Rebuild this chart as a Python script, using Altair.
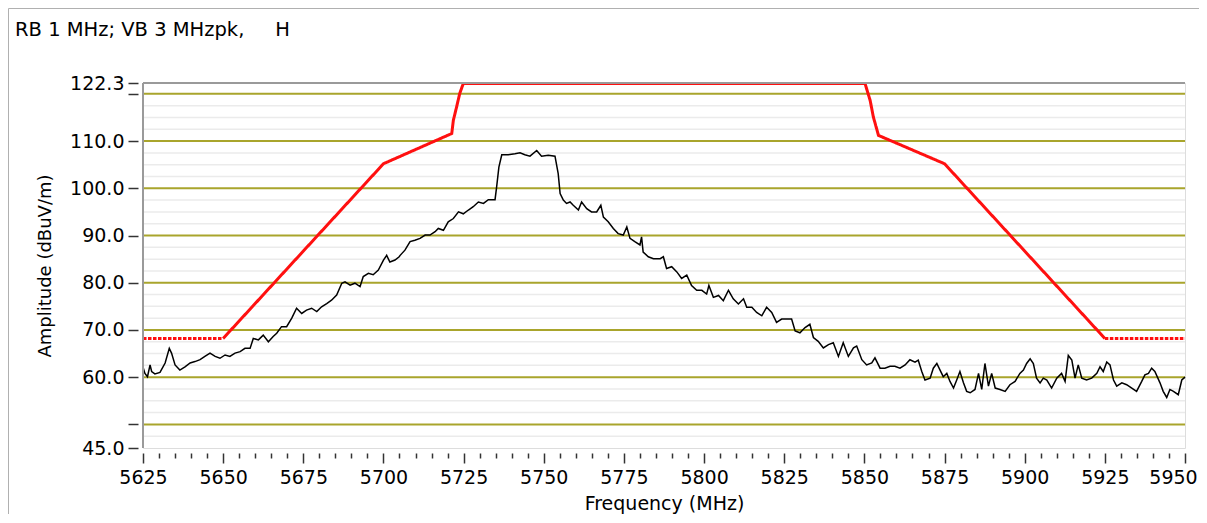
import altair as alt
import pandas as pd

# ---------------- data ----------------
x_tick_values = list(range(5625, 5951, 5))
y_tick_values = [45, 50, 60, 70, 80, 90, 100, 110, 120, 122.3]
major_grid = [50, 60, 70, 80, 90, 100, 110, 120]
minor_grid = [47.5, 52.5, 55, 57.5, 62.5, 65, 67.5, 72.5, 75, 77.5, 82.5, 85, 87.5,
              92.5, 95, 97.5, 102.5, 105, 107.5, 112.5, 115, 117.5]

# limit line, piece by piece (flat pieces drawn dotted, the rest solid)
limit_left_flat_freq = [5625, 5650]
limit_left_flat_amp = [68.2, 68.2]
limit_rise_freq = [5650, 5700, 5721.3, 5721.8, 5722.8, 5723.8, 5724.9]
limit_rise_amp = [68.2, 105.2, 111.6, 114.4, 117.2, 120.1, 122.2]
limit_top_freq = [5724.9, 5850.2]
limit_top_amp = [122.2, 122.2]
limit_fall_freq = [5850.2, 5851.8, 5852.8, 5854.4, 5875, 5925]
limit_fall_amp = [122.2, 118.6, 115.1, 111.2, 105.2, 68.2]
limit_right_flat_freq = [5925, 5950]
limit_right_flat_amp = [68.2, 68.2]

seg1_freq = [5625.1, 5625.6, 5626.4, 5627.2, 5627.7, 5628.7, 5630.3, 5631.9, 5633.2, 5633.9,
             5635.0, 5636.5, 5638.1, 5639.7, 5641.2, 5642.8, 5644.3, 5645.9, 5647.5, 5649.0,
             5650.6, 5652.1, 5653.7, 5655.3, 5656.8, 5658.4, 5659.4, 5661.0, 5662.5, 5664.1,
             5665.6, 5666.7, 5668.2, 5669.8, 5671.4, 5672.9, 5674.5, 5676.0, 5677.6, 5679.2,
             5680.7, 5682.3, 5683.8, 5685.4, 5687.0, 5688.0, 5689.6, 5691.1, 5692.7, 5693.7,
             5695.3, 5696.8, 5698.4, 5700.0, 5701.0, 5702.0, 5703.6, 5704.9]
seg1_amp = [61.9, 60.8, 60.1, 62.6, 61.2, 60.7, 61.0, 63.0, 66.1, 65.1,
            62.6, 61.5, 62.2, 63.0, 63.3, 63.7, 64.4, 65.1, 64.4, 64.0,
            64.7, 64.4, 65.1, 65.4, 66.1, 66.1, 68.2, 67.9, 68.9, 67.5,
            68.6, 69.3, 70.7, 70.7, 72.5, 74.6, 73.5, 74.2, 74.6, 73.9,
            74.9, 75.6, 76.3, 77.4, 79.9, 80.2, 79.5, 79.9, 79.2, 81.3,
            82.0, 81.7, 82.7, 84.8, 85.8, 84.4, 84.8, 85.5]

seg2_freq = [5705.2, 5706.7, 5708.3, 5709.8, 5711.4, 5713.0, 5714.5, 5716.1, 5717.1, 5718.7,
             5720.2, 5721.8, 5723.4, 5724.9, 5726.5, 5728.0, 5729.6, 5731.2, 5732.7, 5734.8,
             5735.3, 5736.0, 5736.9, 5738.9, 5741.0, 5742.6, 5744.1, 5745.7, 5747.8, 5749.3,
             5751.4, 5753.5, 5754.5, 5755.1, 5756.1, 5757.1, 5758.2, 5759.2, 5760.8, 5761.8,
             5763.4, 5764.9, 5766.5, 5767.8, 5768.6, 5770.1, 5771.7, 5773.2, 5774.8, 5775.9,
             5776.9, 5778.4, 5780.0, 5780.5, 5781.0, 5782.6, 5784.2]
seg2_amp = [85.8, 86.9, 88.7, 89.0, 89.4, 90.1, 90.1, 90.8, 91.5, 91.1,
            92.9, 93.6, 95.0, 94.6, 95.4, 96.1, 97.1, 96.8, 97.6, 97.6,
            100.3, 104.5, 107.1, 107.1, 107.3, 107.5, 107.1, 106.8, 108.0, 106.8,
            107.0, 106.8, 103.1, 98.9, 97.5, 96.8, 97.1, 96.4, 95.4, 97.1,
            95.7, 95.0, 95.0, 96.4, 93.9, 92.9, 91.5, 90.4, 90.1, 91.8,
            89.4, 88.7, 88.0, 89.7, 86.5, 85.5, 85.1]

seg3_freq = [5786.3, 5787.3, 5788.3, 5789.9, 5791.5, 5793.0, 5794.6, 5796.1, 5797.7, 5799.3,
             5800.8, 5801.5, 5802.9, 5804.5, 5806.0, 5807.6, 5809.1, 5810.7, 5812.3, 5813.3,
             5814.9, 5816.4, 5818.0, 5819.5, 5821.1, 5822.6, 5824.2, 5825.8, 5827.3, 5828.4,
             5829.9, 5831.5, 5833.0, 5834.1, 5835.6, 5837.2, 5838.8, 5840.3, 5841.9, 5843.4,
             5845.0, 5846.6, 5847.6, 5849.2, 5850.7, 5852.3, 5853.3, 5854.9, 5856.4, 5858.0,
             5859.5, 5861.1, 5862.7, 5864.2]
seg3_amp = [85.1, 85.5, 83.0, 83.4, 82.3, 80.9, 81.6, 79.4, 78.4, 78.4,
            77.6, 79.4, 76.9, 77.3, 76.2, 78.4, 76.6, 75.5, 76.6, 74.8,
            74.8, 73.7, 73.0, 74.8, 73.7, 71.6, 72.3, 72.3, 72.3, 69.8,
            69.4, 70.5, 71.2, 68.4, 67.6, 66.2, 66.9, 67.3, 64.4, 67.3,
            64.4, 66.2, 66.6, 63.7, 62.6, 63.0, 64.1, 61.9, 61.9, 62.3,
            62.3, 61.9, 62.6, 63.7]

seg4_freq = [5865.8, 5866.8, 5867.9, 5868.9, 5870.5, 5871.5, 5872.6, 5873.6, 5874.6, 5875.7,
             5876.7, 5877.8, 5878.8, 5879.8, 5880.9, 5881.9, 5883.0, 5884.5, 5885.6, 5886.6,
             5887.6, 5888.7, 5889.7, 5890.8, 5892.3, 5893.9, 5895.4, 5897.0, 5898.5, 5899.6,
             5900.6, 5901.7, 5902.7, 5903.7, 5904.8, 5905.8, 5906.9, 5908.4, 5910.0, 5911.5,
             5912.6, 5913.6, 5914.7, 5915.7, 5916.7, 5917.8, 5919.3, 5920.9, 5922.5, 5923.5,
             5924.5, 5925.6, 5926.6, 5927.7, 5928.7, 5930.3, 5931.8, 5933.4, 5934.9, 5936.5,
             5937.5, 5938.6, 5939.6, 5940.6, 5942.2, 5943.2, 5944.3, 5945.3, 5946.4, 5947.9,
             5949.0, 5950.0]
seg4_amp = [63.2, 63.6, 61.2, 59.4, 59.8, 61.9, 62.9, 61.5, 60.1, 60.8,
            59.1, 57.7, 59.4, 61.2, 58.8, 57.0, 56.7, 57.4, 60.8, 57.4,
            62.9, 58.1, 60.8, 57.7, 57.4, 57.0, 58.4, 59.1, 60.8, 61.5,
            62.9, 63.9, 62.9, 59.8, 58.8, 59.8, 59.4, 57.7, 59.8, 60.8,
            59.1, 64.6, 63.6, 59.8, 62.6, 59.8, 59.4, 59.8, 60.8, 62.2,
            61.2, 63.2, 62.6, 59.4, 58.1, 58.8, 58.4, 57.7, 57.0, 59.1,
            60.5, 60.8, 61.9, 61.2, 58.8, 57.0, 55.7, 57.4, 57.0, 56.3,
            59.4, 60.0]

title_text = "RB 1 MHz; VB 3 MHzpk,\u00a0\u00a0\u00a0\u00a0\u00a0H"

# ---------------- tables ----------------
trace_f = seg1_freq + seg2_freq + seg3_freq + seg4_freq
trace_v = seg1_amp + seg2_amp + seg3_amp + seg4_amp
n = min(len(trace_f), len(trace_v))
trace_df = pd.DataFrame({"f": trace_f[:n], "v": trace_v[:n], "i": list(range(n))})

limit_rows = []
pieces = [
    ("a", "flat", limit_left_flat_freq, limit_left_flat_amp),
    ("b", "solid", limit_rise_freq, limit_rise_amp),
    ("c", "solid", limit_top_freq, limit_top_amp),
    ("d", "solid", limit_fall_freq, limit_fall_amp),
    ("e", "flat", limit_right_flat_freq, limit_right_flat_amp),
]
k = 0
for name, style, fs, vs in pieces:
    for f, v in zip(fs, vs):
        limit_rows.append({"f": f, "v": v, "piece": name, "style": style, "i": k})
        k += 1
limit_df = pd.DataFrame(limit_rows)

major_df = pd.DataFrame({"v": major_grid})
minor_df = pd.DataFrame({"v": minor_grid})
top_df = pd.DataFrame({"v": [122.3]})
left_df = pd.DataFrame({"f": [5625]})
label_df = pd.DataFrame({"t": [title_text]})

FONT = "DejaVu Sans"

xscale = alt.Scale(domain=[5625, 5950], nice=False, zero=False)
yscale = alt.Scale(domain=[45, 122.3], nice=False, zero=False)

xaxis = alt.Axis(
    values=x_tick_values,
    labelExpr="datum.value % 25 === 0 ? format(datum.value, 'd') : ''",
    tickSize={"condition": {"test": "datum.value % 25 === 0", "value": 10}, "value": 5},
    labelOffset={"condition": {"test": "datum.value === 5950", "value": -12}, "value": 0},
    offset=5, domain=False, grid=False,
    tickColor="#333333", tickWidth=1.5,
    labelFont=FONT, labelFontSize=19, labelColor="black", labelPadding=5,
    labelOverlap=False, labelFlush=False,
    titleFont=FONT, titleFontSize=19, titleFontWeight="normal", titleColor="black",
    titlePadding=7,
)
yaxis = alt.Axis(
    values=y_tick_values,
    labelExpr="(datum.value === 50 || datum.value === 120) ? '' : format(datum.value, '.1f')",
    tickSize=10, offset=5, domain=False, grid=False,
    tickColor="#333333", tickWidth=1.5,
    labelFont=FONT, labelFontSize=19, labelColor="black", labelPadding=4,
    labelOverlap=False, labelFlush=False,
    titleFont=FONT, titleFontSize=18, titleFontWeight="normal", titleColor="black",
    titlePadding=15,
)

X = alt.X("f:Q", scale=xscale, axis=xaxis, title="Frequency (MHz)")
Y = alt.Y("v:Q", scale=yscale, axis=yaxis, title="Amplitude (dBuV/m)")

minor = alt.Chart(minor_df).mark_rule(color="#ebebeb", strokeWidth=1.5).encode(y=Y)
major = alt.Chart(major_df).mark_rule(color="#a9a52c", strokeWidth=2).encode(y=Y)
limit = alt.Chart(limit_df).mark_line(color="#ff1010", strokeWidth=3).encode(
    x=X, y=Y, order="i:Q", detail="piece:N",
    strokeDash=alt.StrokeDash(
        "style:N",
        scale=alt.Scale(domain=["flat", "solid"], range=[[3.5, 1.5], [1, 0]]),
        legend=None,
    ),
)
trace = alt.Chart(trace_df).mark_line(color="black", strokeWidth=1.5).encode(
    x=X, y=Y, order="i:Q")
top_border = alt.Chart(top_df).mark_rule(color="#9a9a9a", strokeWidth=2).encode(y=Y)
left_border = alt.Chart(left_df).mark_rule(color="#9a9a9a", strokeWidth=2).encode(x=X)

frame_top = alt.Chart(top_df).mark_rule(color="#b0b0b0", strokeWidth=1).encode(
    x=alt.value(-134.5), x2=alt.value(1056), y=alt.value(-74.5))
frame_left = alt.Chart(top_df).mark_rule(color="#b0b0b0", strokeWidth=1).encode(
    x=alt.value(-134.5), y=alt.value(-74.5), y2=alt.value(440))

heading = alt.Chart(label_df).mark_text(
    align="left", baseline="alphabetic", font=FONT, fontSize=19.5, color="black"
).encode(x=alt.value(-128), y=alt.value(-47), text="t:N")

chart = alt.layer(
    minor, major, limit, trace, top_border, left_border, frame_top, frame_left, heading
).properties(
    width=1042,
    height=365,
    autosize=alt.AutoSizeParams(type="none"),
    padding={"left": 135, "top": 75, "right": 14, "bottom": 66},
).configure_view(stroke=None).configure(background="white")

chart.save("out.html", embed_options={"renderer": "svg", "actions": False})
